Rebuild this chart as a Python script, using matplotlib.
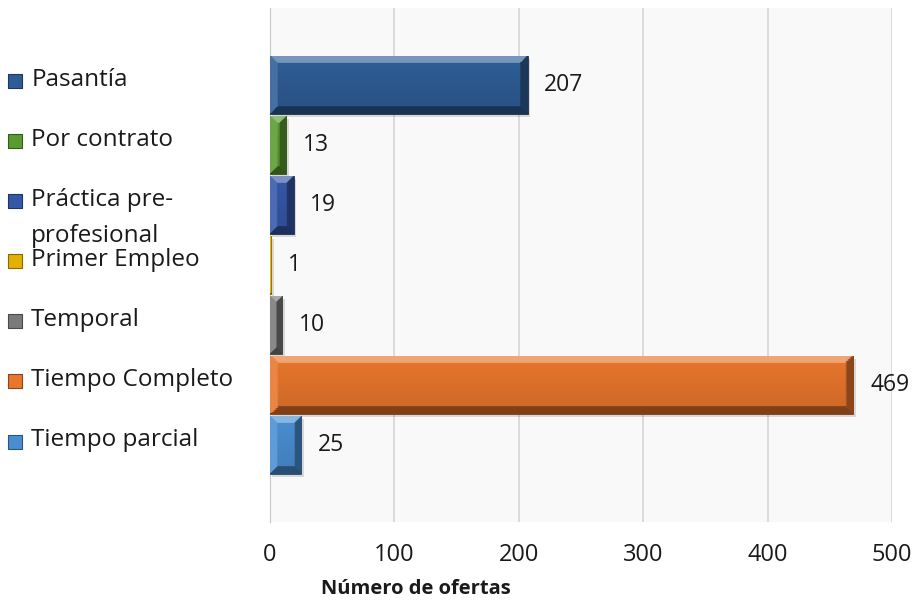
import numpy as np
import matplotlib.pyplot as plt
from matplotlib.colors import to_rgb

# Datos
categorias = ['Pasantía', 'Por contrato', 'Práctica pre-\nprofesional', 'Primer Empleo',
              'Temporal', 'Tiempo Completo', 'Tiempo parcial']
ofertas = [207, 13, 19, 1, 10, 469, 25]
colores = ['#2e5d96', '#5a9a30', '#3557a8', '#e2b000', '#7a7a7a', '#e8762c', '#4a8ed2']
ticks_x = [0, 100, 200, 300, 400, 500]

plt.rcParams['font.family'] = ['Open Sans', 'DejaVu Sans']

fig = plt.figure(figsize=(9.18, 6.01), dpi=100)
ax = fig.add_axes([270 / 918, 1 - 522 / 601, 622 / 918, 514 / 601])
ax.set_facecolor('#f9f9f9')

y = np.arange(len(categorias))
alto = 0.97


def mezclar(c, otro, t):
    c = np.array(to_rgb(c))
    return c + (np.array(otro) - c) * t


def biselado(c, v, px_x=1.244, px_y=60.0, b=7.0):
    # imagen con biselado estilo Excel (caras arriba/abajo/izquierda/derecha)
    filas, cols = 60, 300
    yy = np.linspace(0, 1, filas)[:, None] * alto * px_y
    xx = np.linspace(0, 1, cols)[None, :] * v * px_x
    dt = np.broadcast_to(yy, (filas, cols))
    db = alto * px_y - dt
    dl = np.broadcast_to(xx, (filas, cols))
    dr = v * px_x - dl
    d = np.stack([dt, db, dl, dr])
    cara = np.argmin(d, axis=0)
    dmin = d.min(axis=0)
    base = np.array(to_rgb(c))
    img = np.empty((filas, cols, 3))
    img[:] = base
    # interior con ligero degradado
    t = np.linspace(0, 1, filas)[:, None, None]
    img = img * (1 - 0.12 * t)
    tonos = [mezclar(c, (1, 1, 1), 0.35), mezclar(c, (0, 0, 0), 0.45),
             mezclar(c, (1, 1, 1), 0.12), mezclar(c, (0, 0, 0), 0.4)]
    for k, tono in enumerate(tonos):
        m = (cara == k) & (dmin < b)
        img[m] = tono
    return img


for yi, v, c in zip(y, ofertas, colores):
    oscuro = mezclar(c, (0, 0, 0), 0.5)
    # sombra
    ax.barh(yi + 0.05, v, height=alto, left=2, color='#000000', alpha=0.13, zorder=2)
    barra = ax.barh(yi, v, height=alto, color=c, edgecolor=oscuro, linewidth=0.6,
                    zorder=3)[0]
    im = ax.imshow(biselado(c, v), extent=(0, v, yi + alto / 2, yi - alto / 2),
                   aspect='auto', interpolation='bilinear', zorder=3.5)
    im.set_clip_path(barra)
    ax.annotate(str(v), xy=(v, yi), xytext=(12, 0), textcoords='offset points',
                va='center', ha='left', fontsize=16.5, color='#1a1a1a', zorder=5)

ax.set_xlim(0, 500)
ax.set_ylim(len(categorias) - 1 + 1.28, -1.28)
ax.set_xticks(ticks_x)
ax.set_xticklabels([str(t) for t in ticks_x], fontsize=17, color='#1a1a1a')
ax.tick_params(axis='x', length=0, pad=15)
ax.set_yticks([])
ax.grid(axis='x', color='#d6d6d6', linewidth=1.2, zorder=0)
ax.set_axisbelow(True)
for s in ['top', 'right', 'bottom']:
    ax.spines[s].set_visible(False)
ax.spines['left'].set_color('#c8c8c8')
ax.set_xlabel('Número de ofertas', fontsize=14.5, fontweight='bold', labelpad=1,
              color='#1a1a1a')
ax.xaxis.set_label_coords(0.235, -0.11)

# leyenda a la izquierda
trans = ax.get_yaxis_transform()
for yi, etiqueta, c in zip(y, categorias, colores):
    ax.scatter([-0.410], [yi - 0.06], marker='s', s=90, color=c,
               edgecolors=mezclar(c, (0, 0, 0), 0.4), linewidths=0.8,
               transform=trans, clip_on=False)
    for k, linea in enumerate(etiqueta.split('\n')):
        ax.text(-0.384, yi - 0.08 + k * 0.6, linea, transform=trans, va='center',
                ha='left', fontsize=17.5, color='#1a1a1a')

fig.savefig('out.png', dpi=100, facecolor='white')
